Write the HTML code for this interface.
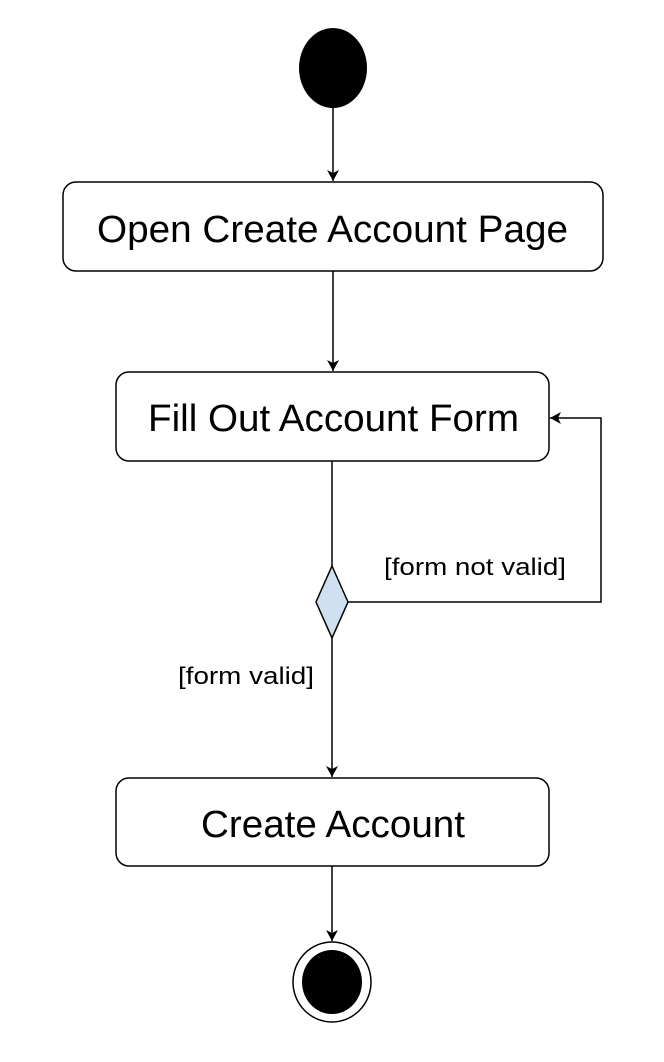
<!DOCTYPE html>
<html><head><meta charset="utf-8"><style>
html,body{margin:0;padding:0;background:#fff;}
svg{display:block;}
text{font-family:"Liberation Sans",Arial,sans-serif;fill:#000;}
</style></head><body>
<svg width="664" height="1062" viewBox="0 0 664 1062" xmlns="http://www.w3.org/2000/svg">
<defs>
<marker id="a" markerWidth="14" markerHeight="14" refX="11" refY="6" orient="auto" markerUnits="userSpaceOnUse">
<path d="M0,0 L11,6 L0,12 L3,6 Z" fill="#000"/>
</marker>
</defs>
<rect width="664" height="1062" fill="#fff"/>
<ellipse cx="333" cy="68" rx="34" ry="40" fill="#000"/>
<line x1="333" y1="108" x2="333" y2="181" stroke="#000" stroke-width="1.5" marker-end="url(#a)"/>
<rect x="63" y="182" width="540" height="89" rx="13" fill="#fff" stroke="#000" stroke-width="1.5"/>
<text x="97" y="242" font-size="38" textLength="471" lengthAdjust="spacingAndGlyphs">Open Create Account Page</text>
<line x1="333" y1="271" x2="333" y2="371" stroke="#000" stroke-width="1.5" marker-end="url(#a)"/>
<rect x="116" y="372" width="433" height="89" rx="13" fill="#fff" stroke="#000" stroke-width="1.5"/>
<text x="148" y="431" font-size="38" textLength="371" lengthAdjust="spacingAndGlyphs">Fill Out Account Form</text>
<line x1="332" y1="461" x2="332" y2="566" stroke="#000" stroke-width="1.5"/>
<polygon points="332,566 348,602 332,638 316,602" fill="#cfe0f0" stroke="#000" stroke-width="1.5"/>
<polyline points="348,602 601,602 601,418 550,418" fill="none" stroke="#000" stroke-width="1.5" marker-end="url(#a)"/>
<text x="384" y="575" font-size="24" textLength="182" lengthAdjust="spacingAndGlyphs">[form not valid]</text>
<text x="178" y="684" font-size="24" textLength="136" lengthAdjust="spacingAndGlyphs">[form valid]</text>
<line x1="332" y1="638" x2="332" y2="777" stroke="#000" stroke-width="1.5" marker-end="url(#a)"/>
<rect x="116" y="778" width="433" height="88" rx="13" fill="#fff" stroke="#000" stroke-width="1.5"/>
<text x="201" y="837" font-size="38" textLength="264" lengthAdjust="spacingAndGlyphs">Create Account</text>
<line x1="332" y1="866" x2="332" y2="941" stroke="#000" stroke-width="1.5" marker-end="url(#a)"/>
<ellipse cx="332" cy="982" rx="39" ry="40" fill="#fff" stroke="#000" stroke-width="1.5"/>
<ellipse cx="332" cy="982" rx="30" ry="32" fill="#000"/>
</svg>
</body></html>
